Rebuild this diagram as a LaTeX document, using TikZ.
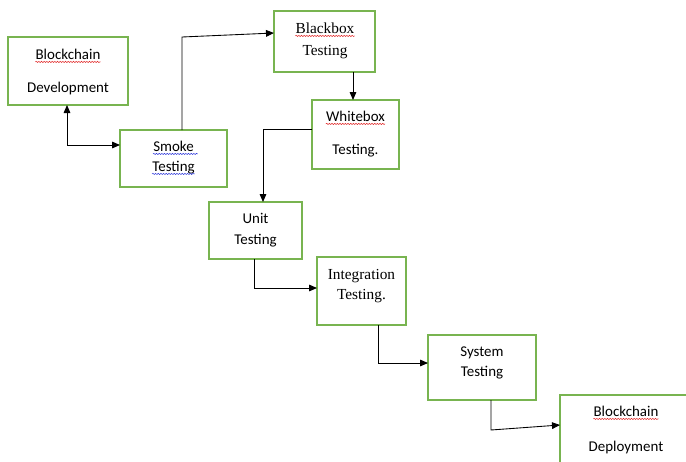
\documentclass[tikz,border=0pt]{standalone}
\usepackage{fontspec}
\setmainfont{Carlito}
\newfontfamily\serifrm{Liberation Serif}
\usetikzlibrary{arrows.meta,decorations.pathmorphing}
\definecolor{boxgreen}{RGB}{120,180,80}
\definecolor{spellred}{RGB}{225,40,40}
\definecolor{spellblue}{RGB}{50,60,220}
\begin{document}
\begin{tikzpicture}[x=0.75pt,y=-0.75pt,
 box/.style={draw=boxgreen,line width=0.9pt,inner sep=0pt,outer sep=0pt},
 txt/.style={anchor=base,inner sep=0pt,font=\fontsize{11.2}{13}\selectfont},
 stxt/.style={anchor=base,inner sep=0pt,font=\fontsize{11.5}{13}\selectfont\serifrm},
 arr/.style={line width=0.65pt,-{Triangle[length=6pt,width=5pt]}},
 darr/.style={line width=0.65pt,{Triangle[length=6pt,width=5pt]}-{Triangle[length=6pt,width=5pt]}},
 squig/.style={decorate,decoration={snake,amplitude=0.45pt,segment length=2pt},line width=0.4pt},
]
\useasboundingbox (0,0) rectangle (686,461);
\clip (0,0) rectangle (686,461);

% boxes
\node[box,minimum width=90pt,minimum height=51pt] (dev) at (68,71) {};
\node[box,minimum width=80.25pt,minimum height=42.75pt] (smoke) at (173.5,158.5) {};
\node[box,minimum width=75.75pt,minimum height=45.75pt] (black) at (324.5,41.5) {};
\node[box,minimum width=65.25pt,minimum height=51.75pt] (white) at (355.5,134.5) {};
\node[box,minimum width=69.75pt,minimum height=42.75pt] (unit) at (255.5,230.5) {};
\node[box,minimum width=66.75pt,minimum height=51pt] (integ) at (361.5,291) {};
\node[box,minimum width=81pt,minimum height=48.75pt] (sys) at (482,367.5) {};
\node[box,minimum width=105pt,minimum height=60pt] (deploy) at (630,435) {};

% texts
\node[txt] (dev1) at (68,59) {Blockchain};
\node[txt] (dev2) at (68,92) {Development};
\node[txt] (sm1) at (173.5,151) {Smoke};
\node[txt] (sm2) at (173.5,171) {Testing};
\node[stxt] (bl1) at (325,33) {Blackbox};
\node[stxt] (bl2) at (325,55) {Testing};
\node[txt] (wh1) at (355.5,121) {Whitebox};
\node[txt] (wh2) at (355.5,154) {Testing.};
\node[txt] (un1) at (255.5,223) {Unit};
\node[txt] (un2) at (255.5,244) {Testing};
\node[stxt] (in1) at (361.5,279) {Integration};
\node[stxt] (in2) at (361.5,299) {Testing.};
\node[txt] (sy1) at (482,356) {System};
\node[txt] (sy2) at (482,376) {Testing};
\node[txt] (de1) at (626,416) {Blockchain};
\node[txt] (de2) at (626,451) {Deployment};

% spell-check underlines
\draw[squig,spellred] ([yshift=-2.2pt]dev1.base west) -- ([yshift=-2.2pt]dev1.base east);
\draw[squig,spellblue] ([yshift=-2.2pt]sm1.base west) -- ([yshift=-2.2pt,xshift=3pt]sm1.base east);
\draw[squig,spellblue] ([yshift=-2.2pt]sm2.base west) -- ([yshift=-2.2pt]sm2.base east);
\draw[squig,spellred] ([yshift=-2.2pt]bl1.base west) -- ([yshift=-2.2pt]bl1.base east);
\draw[squig,spellred] ([yshift=-2.2pt]wh1.base west) -- ([yshift=-2.2pt]wh1.base east);
\draw[squig,spellred] ([yshift=-2.2pt]de1.base west) -- ([yshift=-2.2pt]de1.base east);

% connector bends
\coordinate (c1) at (67,145);
\coordinate (c2) at (182,37);
\coordinate (c2e) at (250,33);
\coordinate (c3) at (353,86);
\coordinate (c4) at (263,129);
\coordinate (c5) at (254,288);
\coordinate (c6) at (378,363);
\coordinate (c7) at (491,430);
\coordinate (c7e) at (530,425);

% connectors
\draw[darr] (dev.south -| c1) -- (c1) -- (smoke.west |- c1);
\draw[arr] (smoke.north -| c2) -- (c2) -- (black.west |- c2e);
\draw[arr] (black.south -| c3) -- (white.north -| c3);
\draw[arr] (white.west |- c4) -- (c4) -- (unit.north -| c4);
\draw[arr] (unit.south -| c5) -- (c5) -- (integ.west |- c5);
\draw[arr] (integ.south -| c6) -- (c6) -- (sys.west |- c6);
\draw[arr] (sys.south -| c7) -- (c7) -- (deploy.west |- c7e);
\end{tikzpicture}
\end{document}
